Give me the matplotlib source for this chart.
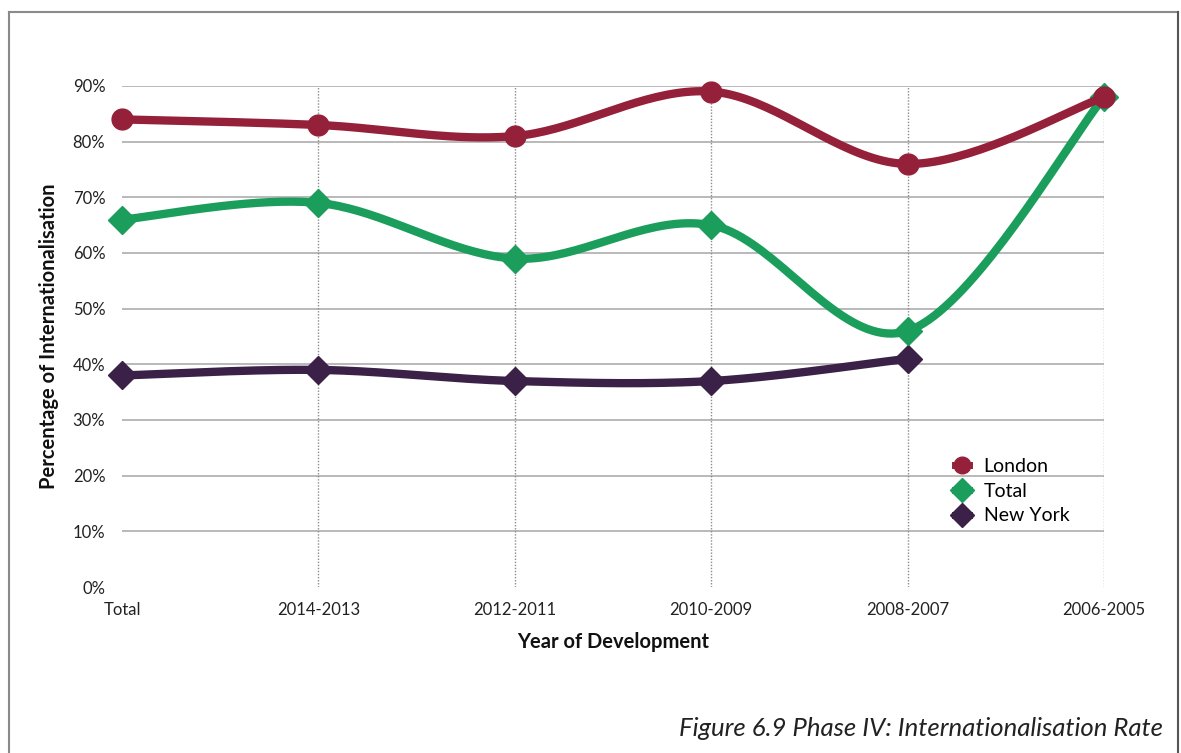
"""
Phase IV internationalisation rate by year of development
"""
import numpy as np
import matplotlib.pyplot as plt
from matplotlib.lines import Line2D

plt.rcParams['font.family'] = ['Lato', 'DejaVu Sans']

periods = ["Total", "2014-2013", "2012-2011", "2010-2009", "2008-2007", "2006-2005"]
london = [84, 83, 81, 89, 76, 88]
total = [66, 69, 59, 65, 46, 88]
new_york = [38, 39, 37, 37, 41]

cmap = {"London": "#95203a", "Total": "#1b9e5c", "New York": "#3b2147"}
mmap = {"London": "o", "Total": "D", "New York": "D"}
msize = {"London": 15, "Total": 14, "New York": 14}


def smooth(ys, steps=40):
    """Catmull-Rom curve through evenly spaced points (like a spreadsheet smoothed line)."""
    ys = np.asarray(ys, dtype=float)
    xs = np.arange(len(ys), dtype=float)
    pts = np.column_stack([xs, ys])
    ext = np.vstack([pts[0], pts, pts[-1]])
    out = []
    for i in range(len(pts) - 1):
        p0, p1, p2, p3 = ext[i], ext[i + 1], ext[i + 2], ext[i + 3]
        c1 = p1 + (p2 - p0) / 6
        c2 = p2 - (p3 - p1) / 6
        t = np.linspace(0, 1, steps)[:, None]
        seg = ((1 - t) ** 3) * p1 + 3 * ((1 - t) ** 2) * t * c1 + 3 * (1 - t) * t ** 2 * c2 + t ** 3 * p2
        out.append(seg if i == 0 else seg[1:])
    seg = np.vstack(out)
    return seg[:, 0], seg[:, 1]


fig = plt.figure(figsize=(11.81, 7.53), dpi=100)
ax = fig.add_axes([122 / 1181, 1 - 587 / 753, (1104 - 122) / 1181, (587 - 86) / 753])

# grid: solid horizontal lines, dotted vertical lines at each period
for v in range(10, 100, 10):
    ax.axhline(v, color="#a6a6a6", lw=1.1, zorder=0)
for i in range(1, len(periods)):
    ax.axvline(i, color="#8c8c8c", lw=1.0, ls=(0, (1, 1.2)), zorder=0)

series = [("New York", new_york), ("Total", total), ("London", london)]
for z, (name, ys) in enumerate(series):
    sx, sy = smooth(ys)
    ax.plot(sx, sy, color=cmap[name], lw=6, solid_capstyle="round", zorder=2 + z, clip_on=False)
    ax.plot(range(len(ys)), ys, ls="none", marker=mmap[name], ms=msize[name],
            color=cmap[name], zorder=2 + z, clip_on=False)

ax.set_xlim(0, len(periods) - 1)
ax.set_ylim(0, 90)
ax.set_xticks(range(len(periods)))
ax.set_xticklabels(periods, fontsize=12, color="#222222")
ax.set_yticks(range(0, 100, 10))
ax.set_yticklabels([f"{v}%" for v in range(0, 100, 10)], fontsize=12, color="#222222")
ax.tick_params(length=0)
ax.tick_params(axis="x", pad=11)
ax.tick_params(axis="y", pad=12)
for s in ax.spines.values():
    s.set_visible(False)

ax.set_xlabel("Year of Development", fontsize=14.5, fontweight="bold", color="#111111", labelpad=10)
ax.set_ylabel("Percentage of Internationalisation", fontsize=14.5, fontweight="bold",
              color="#111111", labelpad=10)

handles = [Line2D([], [], color=cmap[n], lw=5, marker=mmap[n], ms=12)
           for n in ["London", "Total", "New York"]]
leg = ax.legend(handles, ["London", "Total", "New York"], loc="lower left",
                bbox_to_anchor=(0.83, 0.09), frameon=False, fontsize=14,
                handlelength=0.75, handletextpad=0.75, labelspacing=0.4)

# figure frame (open at the bottom)
fc = "#8a8a8a"
fig.add_artist(Line2D([9 / 1181, 9 / 1181], [0, 1 - 12 / 753], color=fc, lw=1.5, transform=fig.transFigure))
fig.add_artist(Line2D([9 / 1181, 1178 / 1181], [1 - 12 / 753, 1 - 12 / 753], color=fc, lw=1.5, transform=fig.transFigure))
fig.add_artist(Line2D([1178 / 1181, 1178 / 1181], [0, 1 - 12 / 753], color="#555555", lw=1.5, transform=fig.transFigure))

fig.text(1163 / 1181, 1 - 736 / 753, "Figure 6.9 Phase IV: Internationalisation Rate",
         ha="right", va="baseline", fontsize=18.5, style="italic", color="#222222")

fig.savefig("out.png", dpi=100)
